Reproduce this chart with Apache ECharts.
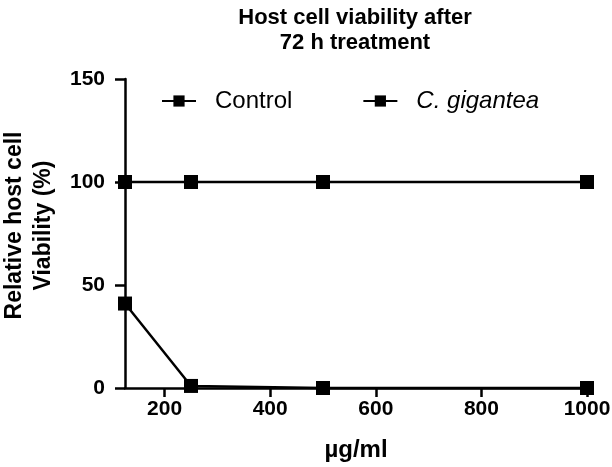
<!DOCTYPE html>
<html><head><meta charset="utf-8">
<script src="https://cdn.jsdelivr.net/npm/echarts@6/dist/echarts.min.js"></script>
<style>html,body{margin:0;padding:0;background:#fff}#c{width:612px;height:467px}</style>
</head><body><div id="c"></div>
<script>
const concentrations = [125, 250, 500, 1000];
const controlValues = [100, 100, 100, 100];
const giganteaValues = [41, 1, 0, 0];
const xTicks = [200, 400, 600, 800, 1000];
const yTicks = [0, 50, 100, 150];

const font = "'Liberation Sans', Arial, sans-serif";
const chart = echarts.init(document.getElementById('c'));
const mk = (name, vals) => ({
  name, type: 'line',
  data: concentrations.map((x, i) => [x, vals[i]]),
  symbol: 'rect', symbolSize: 14,
  lineStyle: {color: '#000', width: 2.5},
  itemStyle: {color: '#000'},
  clip: false, animation: false
});
chart.setOption({
  backgroundColor: '#fff',
  animation: false,
  title: {
    text: 'Host cell viability after\n72 h treatment',
    left: 350, top: 0, textAlign: 'center',
    textStyle: {fontFamily: font, fontWeight: 'bold', fontSize: 22, lineHeight: 25, color: '#000'}
  },
  legend: {
    left: 156, top: 84, itemGap: 70, itemWidth: 34, itemHeight: 14,
    textStyle: {fontFamily: font, fontSize: 24, color: '#000', padding: [0, 0, 0, 14],
      rich: {it: {fontFamily: font, fontSize: 24, fontStyle: 'italic', color: '#000'}}},
    formatter: n => n === 'C. gigantea' ? '{it|C. gigantea}' : n,
    data: ['Control', 'C. gigantea']
  },
  grid: {left: 125, right: 25, top: 79, bottom: 79, containLabel: false, outerBoundsMode: 'none'},
  xAxis: {
    type: 'value', min: 125, max: 1000,
    name: 'µg/ml', nameLocation: 'middle', nameGap: 50,
    nameTextStyle: {fontFamily: font, fontWeight: 'bold', fontSize: 24, color: '#000'},
    axisLine: {show: true, lineStyle: {color: '#000', width: 2.5}},
    axisTick: {show: true, length: 9, lineStyle: {color: '#000', width: 2.5}, customValues: xTicks},
    axisLabel: {fontFamily: font, fontWeight: 'bold', fontSize: 21, color: '#000', margin: 11,
      customValues: xTicks, formatter: v => String(v)},
    splitLine: {show: false}
  },
  yAxis: {
    type: 'value', min: 0, max: 150, interval: 50,
    name: 'Relative host cell\nViability (%)', nameLocation: 'middle', nameGap: 67,
    nameTextStyle: {fontFamily: font, fontWeight: 'bold', fontSize: 23, lineHeight: 29, color: '#000',
      padding: [0, 0, 0, 16]},
    axisLine: {show: true, lineStyle: {color: '#000', width: 2.5}},
    axisTick: {show: true, length: 10, lineStyle: {color: '#000', width: 2.5}},
    axisLabel: {fontFamily: font, fontWeight: 'bold', fontSize: 21, color: '#000', margin: 20,
      formatter: v => String(v)},
    splitLine: {show: false}
  },
  series: [mk('Control', controlValues), mk('C. gigantea', giganteaValues)]
});
</script></body></html>
